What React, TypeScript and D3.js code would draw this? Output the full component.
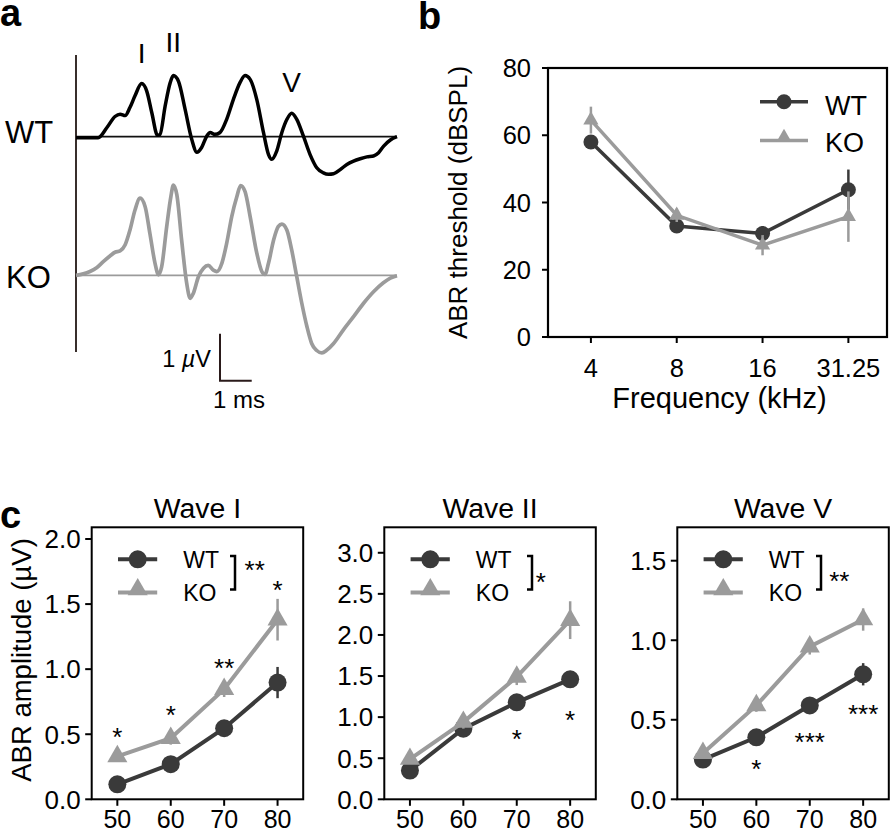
import React from 'react';
import * as d3 from 'd3';

// ---------- Panel a: ABR traces (time ms, amplitude µV) ----------
const wtTrace: [number, number][] = [
  [0, -0.02], [0.7, -0.02], [0.97, 0.19], [1.23, 0.43], [1.39, 0.48], [1.55, 0.45], [1.7, 0.62], [1.86, 0.87],
  [2.07, 1.13], [2.23, 0.97], [2.39, 0.51], [2.57, 0.03], [2.65, 0.05], [2.81, 0.65], [2.97, 1.15], [3.07, 1.3],
  [3.23, 1.18], [3.44, 0.58], [3.65, -0.06], [3.81, -0.33], [3.96, -0.23], [4.12, 0.01], [4.23, 0.09], [4.38, 0.05],
  [4.54, 0.09], [4.75, 0.37], [4.96, 0.79], [5.17, 1.15], [5.33, 1.3], [5.49, 1.22], [5.7, 0.79], [5.91, 0.09],
  [6.07, -0.38], [6.17, -0.48], [6.33, -0.3], [6.49, 0.09], [6.65, 0.37], [6.8, 0.5], [6.96, 0.37], [7.17, 0.01],
  [7.38, -0.38], [7.59, -0.66], [7.8, -0.77], [7.96, -0.8], [8.12, -0.79], [8.33, -0.7], [8.54, -0.59], [8.75, -0.52],
  [8.96, -0.47], [9.17, -0.43], [9.38, -0.41], [9.54, -0.34], [9.7, -0.2], [9.91, -0.07], [10.12, 0.0],
];
const koTrace: [number, number][] = [
  [0, 0], [0.23, 0.03], [0.44, 0.08], [0.65, 0.16], [0.86, 0.29], [1.07, 0.41], [1.23, 0.49], [1.39, 0.52],
  [1.55, 0.65], [1.7, 0.96], [1.86, 1.39], [2.02, 1.64], [2.18, 1.46], [2.33, 0.89], [2.49, 0.26], [2.6, 0.01],
  [2.7, 0.18], [2.86, 1.04], [2.99, 1.67], [3.07, 1.92], [3.18, 1.71], [3.33, 0.75], [3.49, -0.17], [3.6, -0.49],
  [3.7, -0.38], [3.86, -0.03], [4.02, 0.15], [4.17, 0.21], [4.33, 0.11], [4.44, 0.08], [4.6, 0.26], [4.75, 0.68],
  [4.91, 1.25], [5.07, 1.67], [5.19, 1.91], [5.33, 1.78], [5.49, 1.25], [5.7, 0.47], [5.86, 0.08], [5.96, 0.02],
  [6.07, 0.26], [6.23, 0.75], [6.38, 1.04], [6.49, 1.09], [6.65, 0.96], [6.8, 0.54], [6.96, -0.03], [7.12, -0.6],
  [7.28, -1.09], [7.43, -1.45], [7.59, -1.6], [7.75, -1.65], [7.91, -1.59], [8.12, -1.45], [8.43, -1.16],
  [8.75, -0.88], [9.06, -0.6], [9.38, -0.35], [9.69, -0.16], [9.91, -0.06], [10.12, -0.01],
];
const waveLabels = ['I', 'II', 'V'];
const waveLabelTimes = [2.07, 3.07, 6.8];
const waveLabelAmps = [1.56, 1.8, 0.96];

// ---------- Panel b: thresholds ----------
const freqLabels = ['4', '8', '16', '31.25'];
const wtThreshold = [58, 33, 30.8, 43.8];
const wtThresholdErr = [1.2, 1.5, 2.2, 6];
const koThreshold = [64.5, 36.2, 27.3, 35.8];
const koThresholdErr = [4, 2, 3, 7.5];
const thresholdTicks = [0, 20, 40, 60, 80];

// ---------- Panel c: amplitudes ----------
const levels = [50, 60, 70, 80];
const waveTitles = ['Wave I', 'Wave II', 'Wave V'];
const waveYMax = [2.09, 3.31, 1.71];
const waveTicks = [
  [0, 0.5, 1.0, 1.5, 2.0],
  [0, 0.5, 1.0, 1.5, 2.0, 2.5, 3.0],
  [0, 0.5, 1.0, 1.5],
];
const wtAmp = [
  [0.115, 0.27, 0.546, 0.897],
  [0.35, 0.86, 1.18, 1.46],
  [0.25, 0.39, 0.59, 0.786],
];
const wtAmpErr = [
  [0.02, 0.03, 0.05, 0.12],
  [0.05, 0.06, 0.07, 0.08],
  [0.02, 0.03, 0.04, 0.07],
];
const koAmp = [
  [0.33, 0.47, 0.846, 1.38],
  [0.49, 0.94, 1.49, 2.18],
  [0.29, 0.59, 0.96, 1.13],
];
const koAmpErr = [
  [0.04, 0.05, 0.06, 0.16],
  [0.06, 0.08, 0.1, 0.23],
  [0.03, 0.04, 0.05, 0.07],
];
const starLevels = [
  [50, 60, 70, 80],
  [70, 80],
  [60, 70, 80],
];
const starAmps = [
  [0.53, 0.7, 1.06, 1.66],
  [0.82, 1.05],
  [0.23, 0.4, 0.58],
];
const starTexts = [
  ['*', '*', '**', '*'],
  ['*', '*'],
  ['*', '***', '***'],
];
const groupStars = ['**', '*', '**'];

const FONT = "'Liberation Sans', Arial, Helvetica, sans-serif";
const WT_COLOR = '#3a3a3a';
const KO_COLOR = '#9b9b9b';

function Star({ x, y, text, size = 26 }: { x: number; y: number; text: string; size?: number }) {
  return (
    <text x={x} y={y + size * 0.6} textAnchor="middle" fontSize={size} fontFamily={FONT} fill="#000">
      {text}
    </text>
  );
}

function PanelA() {
  const x = d3.scaleLinear().domain([0, 10.12]).range([76, 397]);
  const yWT = d3.scaleLinear().domain([0, 1]).range([136.7, 89.7]);
  const yKO = d3.scaleLinear().domain([0, 1]).range([275.3, 228.3]);
  const lineWT = d3.line<[number, number]>().x((d) => x(d[0])).y((d) => yWT(d[1])).curve(d3.curveMonotoneX);
  const lineKO = d3.line<[number, number]>().x((d) => x(d[0])).y((d) => yKO(d[1])).curve(d3.curveMonotoneX);
  // scale bar: 1 ms × 1 µV, corner at (220, 380.7)
  const sbX = d3.scaleLinear().domain([0, 1]).range([220, 220 + (x(1) - x(0))]);
  const sbY = d3.scaleLinear().domain([0, 1]).range([380.7, 380.7 - (yWT(0) - yWT(1))]);
  return (
    <g>
      <text x={0} y={26} fontSize={38} fontWeight="bold" fontFamily={FONT}>a</text>
      <line x1={76} x2={76} y1={55} y2={352} stroke="#231815" strokeWidth={1.8} />
      <line x1={76} x2={x(10.12)} y1={yWT(0)} y2={yWT(0)} stroke="#111" strokeWidth={1.7} />
      <line x1={76} x2={x(10.12)} y1={yKO(0)} y2={yKO(0)} stroke={KO_COLOR} strokeWidth={1.8} />
      <path d={lineWT(wtTrace) || ''} fill="none" stroke="#000" strokeWidth={3.5} strokeLinejoin="round" />
      <path d={lineKO(koTrace) || ''} fill="none" stroke={KO_COLOR} strokeWidth={3.7} strokeLinejoin="round" />
      <text x={5} y={143.3} fontSize={31} fontFamily={FONT}>WT</text>
      <text x={6} y={288.3} fontSize={31} fontFamily={FONT}>KO</text>
      {waveLabels.map((l, i) => (
        <text key={l} x={x(waveLabelTimes[i])} y={yWT(waveLabelAmps[i])} textAnchor="middle" fontSize={28} fontFamily={FONT}>
          {l}
        </text>
      ))}
      <path
        d={`M${sbX(0)},${sbY(1)}V${sbY(0)}H${sbX(1)}`}
        fill="none"
        stroke="#2a1a1a"
        strokeWidth={2}
      />
      <text x={211} y={367} textAnchor="end" fontSize={23.5} fontFamily={FONT}>
        1 <tspan fontStyle="italic">µ</tspan>V
      </text>
      <text x={239} y={408} textAnchor="middle" fontSize={24} fontFamily={FONT}>1 ms</text>
    </g>
  );
}

function PanelB() {
  const left = 548, right = 887, top = 68, bottom = 337;
  const x = d3.scaleLinear().domain([-0.5, 3.45]).range([left, right]);
  const y = d3.scaleLinear().domain([0, 80]).range([bottom, top]);
  const idx = freqLabels.map((_, i) => i);
  const line = d3.line<number>().x((i) => x(i));
  const tri = d3.symbol(d3.symbolTriangle, 100)() || '';
  const triLegend = d3.symbol(d3.symbolTriangle, 100)() || '';
  return (
    <g>
      <text x={418} y={28.5} fontSize={38} fontWeight="bold" fontFamily={FONT}>b</text>
      <rect x={left} y={top} width={right - left} height={bottom - top} fill="none" stroke="#000" strokeWidth={2.2} />
      {thresholdTicks.map((t) => (
        <g key={t}>
          <line x1={left - 6} x2={left} y1={y(t)} y2={y(t)} stroke="#000" strokeWidth={2} />
          <text x={left - 17} y={y(t) + 9} textAnchor="end" fontSize={25.5} fontFamily={FONT}>{t}</text>
        </g>
      ))}
      {freqLabels.map((f, i) => (
        <g key={f}>
          <line x1={x(i)} x2={x(i)} y1={bottom} y2={bottom + 6} stroke="#000" strokeWidth={2} />
          <text x={x(i)} y={bottom + 40} textAnchor="middle" fontSize={25.5} fontFamily={FONT}>{f}</text>
        </g>
      ))}
      <text x={(left + right) / 2 + 2} y={408} textAnchor="middle" fontSize={29} fontFamily={FONT}>Frequency (kHz)</text>
      <text
        transform={`translate(467,${(top + bottom) / 2}) rotate(-90)`}
        textAnchor="middle"
        fontSize={26}
        fontFamily={FONT}
      >
        ABR threshold (dBSPL)
      </text>
      {/* WT */}
      {idx.map((i) => (
        <line key={'we' + i} x1={x(i)} x2={x(i)} y1={y(wtThreshold[i] - wtThresholdErr[i])} y2={y(wtThreshold[i] + wtThresholdErr[i])} stroke={WT_COLOR} strokeWidth={2.5} />
      ))}
      <path d={line.y((i) => y(wtThreshold[i]))(idx) || ''} fill="none" stroke={WT_COLOR} strokeWidth={3.5} />
      {idx.map((i) => (
        <circle key={'wc' + i} cx={x(i)} cy={y(wtThreshold[i])} r={7.5} fill={WT_COLOR} />
      ))}
      {/* KO */}
      {idx.map((i) => (
        <line key={'ke' + i} x1={x(i)} x2={x(i)} y1={y(koThreshold[i] - koThresholdErr[i])} y2={y(koThreshold[i] + koThresholdErr[i])} stroke={KO_COLOR} strokeWidth={2.5} />
      ))}
      <path d={line.y((i) => y(koThreshold[i]))(idx) || ''} fill="none" stroke={KO_COLOR} strokeWidth={3.5} />
      {idx.map((i) => (
        <path key={'kt' + i} d={tri} transform={`translate(${x(i)},${y(koThreshold[i])})`} fill={KO_COLOR} />
      ))}
      {/* legend */}
      <line x1={760} x2={808} y1={101.7} y2={101.7} stroke={WT_COLOR} strokeWidth={3.5} />
      <circle cx={784} cy={101.7} r={7.5} fill={WT_COLOR} />
      <text x={825} y={114.5} fontSize={27} fontFamily={FONT}>WT</text>
      <line x1={760} x2={808} y1={140.5} y2={140.5} stroke={KO_COLOR} strokeWidth={3.5} />
      <path d={triLegend} transform={`translate(784,${140.5 - 3})`} fill={KO_COLOR} />
      <text x={825} y={151.5} fontSize={27} fontFamily={FONT}>KO</text>
    </g>
  );
}

function AmpPanel({ k, left }: { k: number; left: number }) {
  const width = 211.5, top = 527.3, bottom = 799.3;
  const x = d3.scaleLinear().domain([45.2, 84.8]).range([left, left + width]);
  const y = d3.scaleLinear().domain([0, waveYMax[k]]).range([bottom, top]);
  const fmt = d3.format('.1f');
  const line = d3.line<number>().x((d, i) => x(levels[i]));
  const tri = d3.symbol(d3.symbolTriangle, 175)() || '';
  const bracketX = [143.3, 147.7, 143.7][k];
  const gsX = [163, 156.4, 162][k];
  const gsY = [563, 575, 574][k];
  return (
    <g>
      <rect x={left} y={top} width={width} height={bottom - top} fill="none" stroke="#000" strokeWidth={2} />
      <text x={left + width / 2} y={518.3} textAnchor="middle" fontSize={28.4} fontFamily={FONT}>{waveTitles[k]}</text>
      {waveTicks[k].map((t) => (
        <g key={t}>
          <line x1={left - 6.5} x2={left} y1={y(t)} y2={y(t)} stroke="#000" strokeWidth={2} />
          <text x={left - 11} y={y(t) + 9.3} textAnchor="end" fontSize={26} fontFamily={FONT}>{fmt(t)}</text>
        </g>
      ))}
      {levels.map((l) => (
        <g key={l}>
          <line x1={x(l)} x2={x(l)} y1={bottom} y2={bottom + 6.5} stroke="#000" strokeWidth={2} />
          <text x={x(l)} y={827.5} textAnchor="middle" fontSize={25} fontFamily={FONT}>{l}</text>
        </g>
      ))}
      {/* WT */}
      {levels.map((l, i) => (
        <line key={'we' + l} x1={x(l)} x2={x(l)} y1={y(wtAmp[k][i] - wtAmpErr[k][i])} y2={y(wtAmp[k][i] + wtAmpErr[k][i])} stroke={WT_COLOR} strokeWidth={2.5} />
      ))}
      <path d={line.y((d) => y(d))(wtAmp[k]) || ''} fill="none" stroke={WT_COLOR} strokeWidth={4} />
      {levels.map((l, i) => (
        <circle key={'wc' + l} cx={x(l)} cy={y(wtAmp[k][i])} r={9} fill={WT_COLOR} />
      ))}
      {/* KO */}
      {levels.map((l, i) => (
        <line key={'ke' + l} x1={x(l)} x2={x(l)} y1={y(koAmp[k][i] - koAmpErr[k][i])} y2={y(koAmp[k][i] + koAmpErr[k][i])} stroke={KO_COLOR} strokeWidth={2.5} />
      ))}
      <path d={line.y((d) => y(d))(koAmp[k]) || ''} fill="none" stroke={KO_COLOR} strokeWidth={4} />
      {levels.map((l, i) => (
        <path key={'kt' + l} d={tri} transform={`translate(${x(l)},${y(koAmp[k][i])})`} fill={KO_COLOR} />
      ))}
      {/* stars */}
      {starLevels[k].map((l, i) => (
        <Star key={'s' + i} x={x(l)} y={y(starAmps[k][i])} text={starTexts[k][i]} />
      ))}
      {/* legend */}
      <line x1={left + 26.3} x2={left + 65.5} y1={559.3} y2={559.3} stroke={WT_COLOR} strokeWidth={4} />
      <circle cx={left + 46} cy={559.3} r={9} fill={WT_COLOR} />
      <text x={left + 91.5} y={567.5} fontSize={23} fontFamily={FONT}>WT</text>
      <line x1={left + 26.3} x2={left + 65.5} y1={592.5} y2={592.5} stroke={KO_COLOR} strokeWidth={4} />
      <path d={tri} transform={`translate(${left + 46},${592.5 - 3})`} fill={KO_COLOR} />
      <text x={left + 91.5} y={600.5} fontSize={23} fontFamily={FONT}>KO</text>
      <path
        d={`M${left + bracketX - 5},556H${left + bracketX}V589.5H${left + bracketX - 5}`}
        fill="none"
        stroke="#000"
        strokeWidth={2.5}
      />
      <Star x={left + gsX} y={gsY} text={groupStars[k]} />
    </g>
  );
}

export default function App() {
  return (
    <svg
      width={893}
      height={833}
      viewBox="0 0 893 833"
      style={{ position: 'absolute', left: 0, top: 0, background: '#fff' }}
    >
      <rect width={893} height={833} fill="#fff" />
      <PanelA />
      <PanelB />
      <text x={0} y={528} fontSize={38} fontWeight="bold" fontFamily={FONT}>c</text>
      <text
        transform={`translate(31,660) rotate(-90)`}
        textAnchor="middle"
        fontSize={27.5}
        fontFamily={FONT}
      >
        ABR amplitude (µV)
      </text>
      <AmpPanel k={0} left={91.7} />
      <AmpPanel k={1} left={384.3} />
      <AmpPanel k={2} left={677.3} />
    </svg>
  );
}
